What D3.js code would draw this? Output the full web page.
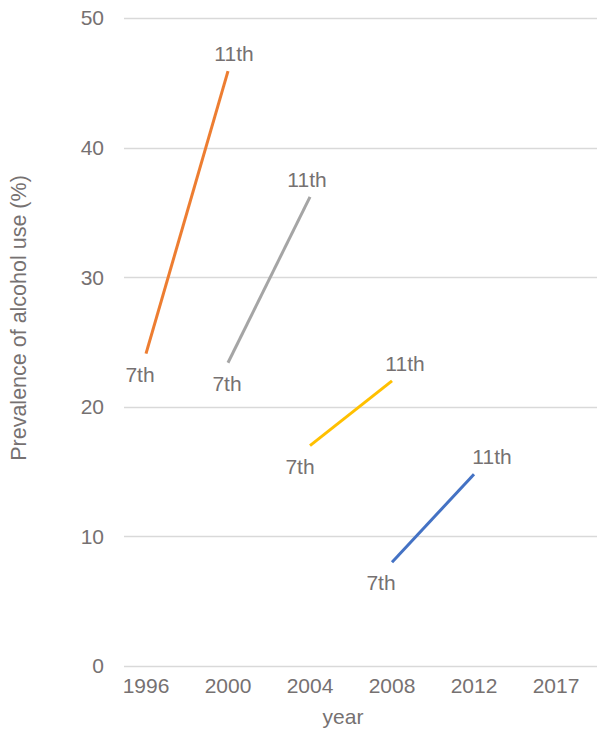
<!DOCTYPE html>
<html lang="en">
<head>
<meta charset="utf-8">
<title>Prevalence of alcohol use</title>
<script src="https://cdn.jsdelivr.net/npm/d3@7"></script>
<style>
  body { margin: 0; background: #fff; }
  text { font-family: "Liberation Sans", Arial, sans-serif; fill: #767171; }
</style>
</head>
<body>
<script>
// categories on the x axis
let years = ["1996", "2000", "2004", "2008", "2012", "2017"];
let yTicks = [0, 10, 20, 30, 40, 50];

// each cohort: 7th grade value -> 11th grade value four years later
let startYears = ["1996", "2000", "2004", "2008"];
let endYears = ["2000", "2004", "2008", "2012"];
let grade7 = [24.1, 23.4, 17.0, 8.0];
let grade11 = [45.9, 36.2, 22.0, 14.8];

let colors = ["#ED7D31", "#A5A5A5", "#FFC000", "#4472C4"];
// little horizontal nudges for the data labels, as placed in the original
let nudge7 = [-6, -1, -10, -11];
let nudge11 = [6, -3, 13, 18];

let w = 597;
let h = 731;
let fs = "21px";

let x = d3.scalePoint()
	.domain(years)
	.range([105, 597])
	.padding(0.5);

let y = d3.scaleLinear()
	.domain([0, 50])
	.range([666, 18]);

let svg = d3.select("body")
	.append("svg")
	.attr("width", w)
	.attr("height", h);

// gridlines
svg.selectAll("line.grid")
	.data(yTicks)
	.enter()
	.append("line")
	.attr("class", "grid")
	.attr("x1", 124)
	.attr("x2", w)
	.attr("y1", (d) => Math.round(y(d)) + 0.5)
	.attr("y2", (d) => Math.round(y(d)) + 0.5)
	.attr("stroke", "#d9d9d9")
	.attr("stroke-width", 1.3);

// y tick labels
svg.selectAll("text.ytick")
	.data(yTicks)
	.enter()
	.append("text")
	.attr("class", "ytick")
	.attr("x", 104)
	.attr("y", (d) => y(d))
	.attr("dy", "0.35em")
	.attr("text-anchor", "end")
	.attr("font-size", fs)
	.text((d) => d);

// x tick labels
svg.selectAll("text.xtick")
	.data(years)
	.enter()
	.append("text")
	.attr("class", "xtick")
	.attr("x", (d) => x(d))
	.attr("y", 693)
	.attr("text-anchor", "middle")
	.attr("font-size", fs)
	.text((d) => d);

// axis titles
svg.append("text")
	.attr("x", 343)
	.attr("y", 724)
	.attr("text-anchor", "middle")
	.attr("font-size", fs)
	.text("year");

svg.append("text")
	.attr("transform", "translate(26,318) rotate(-90)")
	.attr("text-anchor", "middle")
	.attr("font-size", "21.5px")
	.text("Prevalence of alcohol use (%)");

let cohorts = grade7.map((v, i) => ({
	x0: startYears[i], y0: v,
	x1: endYears[i], y1: grade11[i],
	color: colors[i], n7: nudge7[i], n11: nudge11[i]
}));

svg.selectAll("line.cohort")
	.data(cohorts)
	.enter()
	.append("line")
	.attr("class", "cohort")
	.attr("x1", (d) => x(d.x0))
	.attr("y1", (d) => y(d.y0))
	.attr("x2", (d) => x(d.x1))
	.attr("y2", (d) => y(d.y1))
	.attr("stroke", (d) => d.color)
	.attr("stroke-width", 3);

svg.selectAll("text.lab7")
	.data(cohorts)
	.enter()
	.append("text")
	.attr("class", "lab7")
	.attr("x", (d) => x(d.x0) + d.n7)
	.attr("y", (d) => y(d.y0) + 28)
	.attr("text-anchor", "middle")
	.attr("font-size", fs)
	.text("7th");

svg.selectAll("text.lab11")
	.data(cohorts)
	.enter()
	.append("text")
	.attr("class", "lab11")
	.attr("x", (d) => x(d.x1) + d.n11)
	.attr("y", (d) => y(d.y1) - 10)
	.attr("text-anchor", "middle")
	.attr("font-size", fs)
	.text("11th");
</script>
</body>
</html>
